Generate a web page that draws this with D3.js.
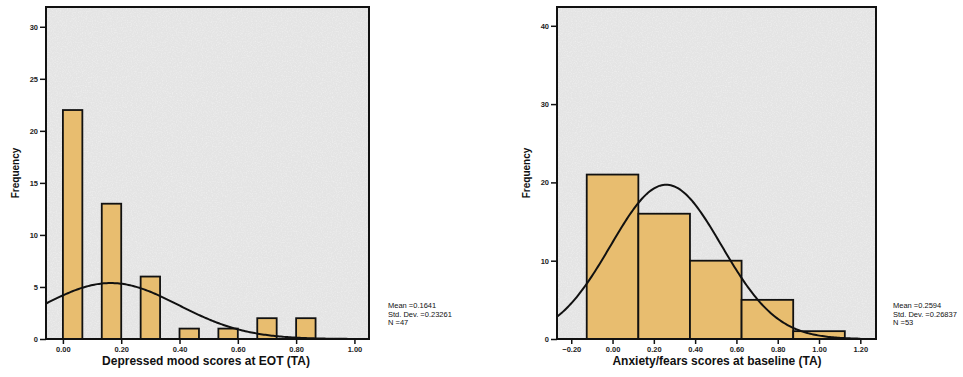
<!DOCTYPE html>
<html>
<head>
<meta charset="utf-8">
<script src="https://cdn.jsdelivr.net/npm/d3@7"></script>
<style>
  body { margin: 0; background: #fff; }
  svg { display: block; }
  .tick text { font-family: "Liberation Sans", Arial, sans-serif; font-size: 7.5px; font-weight: bold; fill: #222; }
  .axis-title { font-family: "Liberation Sans", Arial, sans-serif; font-weight: bold; fill: #111; }
  .stats { font-family: "Liberation Sans", Arial, sans-serif; font-size: 7.5px; fill: #111; }
</style>
</head>
<body>
<div class="chart-area"></div>
<script>
const width = 963
const height = 377

// left histogram: depressed mood at EOT
const moodBinStart = [0.0, 0.1333, 0.2667, 0.4, 0.5333, 0.6667, 0.8]
const moodBinEnd = [0.0667, 0.2, 0.3333, 0.4667, 0.6, 0.7333, 0.8667]
const moodCounts = [22, 13, 6, 1, 1, 2, 2]
const moodStats = { mean: 0.1641, sd: 0.23261, n: 47, binWidth: 0.0667 }
const moodXTicks = [0, 0.2, 0.4, 0.6, 0.8, 1.0]
const moodYTicks = [0, 5, 10, 15, 20, 25, 30]

// right histogram: anxiety/fears at baseline
const anxBinStart = [-0.125, 0.125, 0.375, 0.625, 0.875]
const anxBinEnd = [0.125, 0.375, 0.625, 0.875, 1.125]
const anxCounts = [21, 16, 10, 5, 1]
const anxStats = { mean: 0.2594, sd: 0.26837, n: 53, binWidth: 0.25 }
const anxXTicks = [-0.2, 0, 0.2, 0.4, 0.6, 0.8, 1.0, 1.2]
const anxYTicks = [0, 10, 20, 30, 40]

const BAR_FILL = '#e8bd6f'
const PLOT_BG = '#e4e4e4'

const svg = d3.select('div.chart-area')
  .append('svg')
  .attr('width', width)
  .attr('height', height)

// speckled grey background like the scanned SPSS plot
const defs = svg.append('defs')
const noise = defs.append('filter')
  .attr('id', 'speckle')
  .attr('x', 0).attr('y', 0).attr('width', 1).attr('height', 1)
noise.append('feTurbulence')
  .attr('type', 'fractalNoise')
  .attr('baseFrequency', 0.8)
  .attr('numOctaves', 2)
  .attr('seed', 3)
noise.append('feColorMatrix')
  .attr('type', 'matrix')
  .attr('values', '0 0 0 0 1  0 0 0 0 1  0 0 0 0 1  0 0 0 -1.2 0.7')

function drawHistogram(opts) {
  const { left, right, top, bottom, xDomain, yMax, starts, ends, counts,
          stats, xTicks, yTicks, curveEnd, xTitle, xTitleX, statsX, freqX } = opts

  const x = d3.scaleLinear().domain(xDomain).range([left, right])
  const y = d3.scaleLinear().domain([0, yMax]).range([bottom, top])

  const g = svg.append('g')

  g.append('rect')
    .attr('x', left).attr('y', top)
    .attr('width', right - left).attr('height', bottom - top)
    .attr('fill', PLOT_BG)
  g.append('rect')
    .attr('x', left).attr('y', top)
    .attr('width', right - left).attr('height', bottom - top)
    .attr('filter', 'url(#speckle)')
    .attr('opacity', 0.6)

  const bins = counts.map((c, i) => ({ x0: starts[i], x1: ends[i], count: c }))
  g.selectAll('rect.bar')
    .data(bins)
    .join('rect')
    .attr('class', 'bar')
    .attr('x', d => x(d.x0))
    .attr('y', d => y(d.count))
    .attr('width', d => x(d.x1) - x(d.x0))
    .attr('height', d => y(0) - y(d.count))
    .attr('fill', BAR_FILL)
    .attr('stroke', '#111')
    .attr('stroke-width', 1.8)

  // fitted normal curve from the reported mean / sd / N
  const normal = v => stats.n * stats.binWidth / (stats.sd * Math.sqrt(2 * Math.PI)) *
    Math.exp(-0.5 * Math.pow((v - stats.mean) / stats.sd, 2))
  const curvePts = d3.range(0, 201).map(i => {
    const v = xDomain[0] + (curveEnd - xDomain[0]) * i / 200
    return [v, normal(v)]
  })
  g.append('path')
    .datum(curvePts)
    .attr('d', d3.line().x(d => x(d[0])).y(d => y(d[1])))
    .attr('fill', 'none')
    .attr('stroke', '#111')
    .attr('stroke-width', 2)

  // frame
  g.append('rect')
    .attr('x', left).attr('y', top)
    .attr('width', right - left).attr('height', bottom - top)
    .attr('fill', 'none')
    .attr('stroke', '#111')
    .attr('stroke-width', 2)

  const yAxis = g.append('g')
    .attr('transform', `translate(${left},0)`)
    .call(d3.axisLeft(y).tickValues(yTicks).tickSize(6).tickPadding(2).tickFormat(d3.format('d')))
  yAxis.select('.domain').remove()
  yAxis.selectAll('.tick line').attr('stroke', '#111').attr('stroke-width', 1.5)
  yAxis.selectAll('.tick text').attr('fill', '#222')

  const xAxis = g.append('g')
    .attr('transform', `translate(0,${bottom})`)
    .call(d3.axisBottom(x).tickValues(xTicks).tickSize(5).tickPadding(3).tickFormat(d3.format('.2f')))
  xAxis.select('.domain').remove()
  xAxis.selectAll('.tick line').attr('stroke', '#111').attr('stroke-width', 1.5)
  xAxis.selectAll('.tick text').attr('fill', '#222')

  g.append('text')
    .attr('class', 'axis-title')
    .attr('x', xTitleX).attr('y', 365)
    .attr('text-anchor', 'middle')
    .attr('font-size', 12)
    .text(xTitle)

  g.append('text')
    .attr('class', 'axis-title')
    .attr('transform', `translate(${freqX},${(top + bottom) / 2}) rotate(-90)`)
    .attr('text-anchor', 'middle')
    .attr('font-size', 10)
    .text('Frequency')

  const lines = [`Mean =${stats.mean}`, `Std. Dev. =${stats.sd}`, `N =${stats.n}`]
  g.selectAll('text.stats')
    .data(lines)
    .join('text')
    .attr('class', 'stats')
    .attr('x', statsX)
    .attr('y', (d, i) => 308 + i * 8.5)
    .text(d => d)
}

drawHistogram({
  left: 46, right: 369, top: 7, bottom: 339,
  xDomain: [-0.058, 1.05], yMax: 31.9,
  starts: moodBinStart, ends: moodBinEnd, counts: moodCounts,
  stats: moodStats, xTicks: moodXTicks, yTicks: moodYTicks,
  curveEnd: 1.01,
  xTitle: 'Depressed mood scores at EOT (TA)', xTitleX: 206,
  statsX: 388, freqX: 19
})

drawHistogram({
  left: 557, right: 876, top: 7, bottom: 339,
  xDomain: [-0.269, 1.276], yMax: 42.4,
  starts: anxBinStart, ends: anxBinEnd, counts: anxCounts,
  stats: anxStats, xTicks: anxXTicks, yTicks: anxYTicks,
  curveEnd: 1.2,
  xTitle: 'Anxiety/fears scores at baseline (TA)', xTitleX: 717,
  statsX: 893, freqX: 530
})
</script>
</body>
</html>
